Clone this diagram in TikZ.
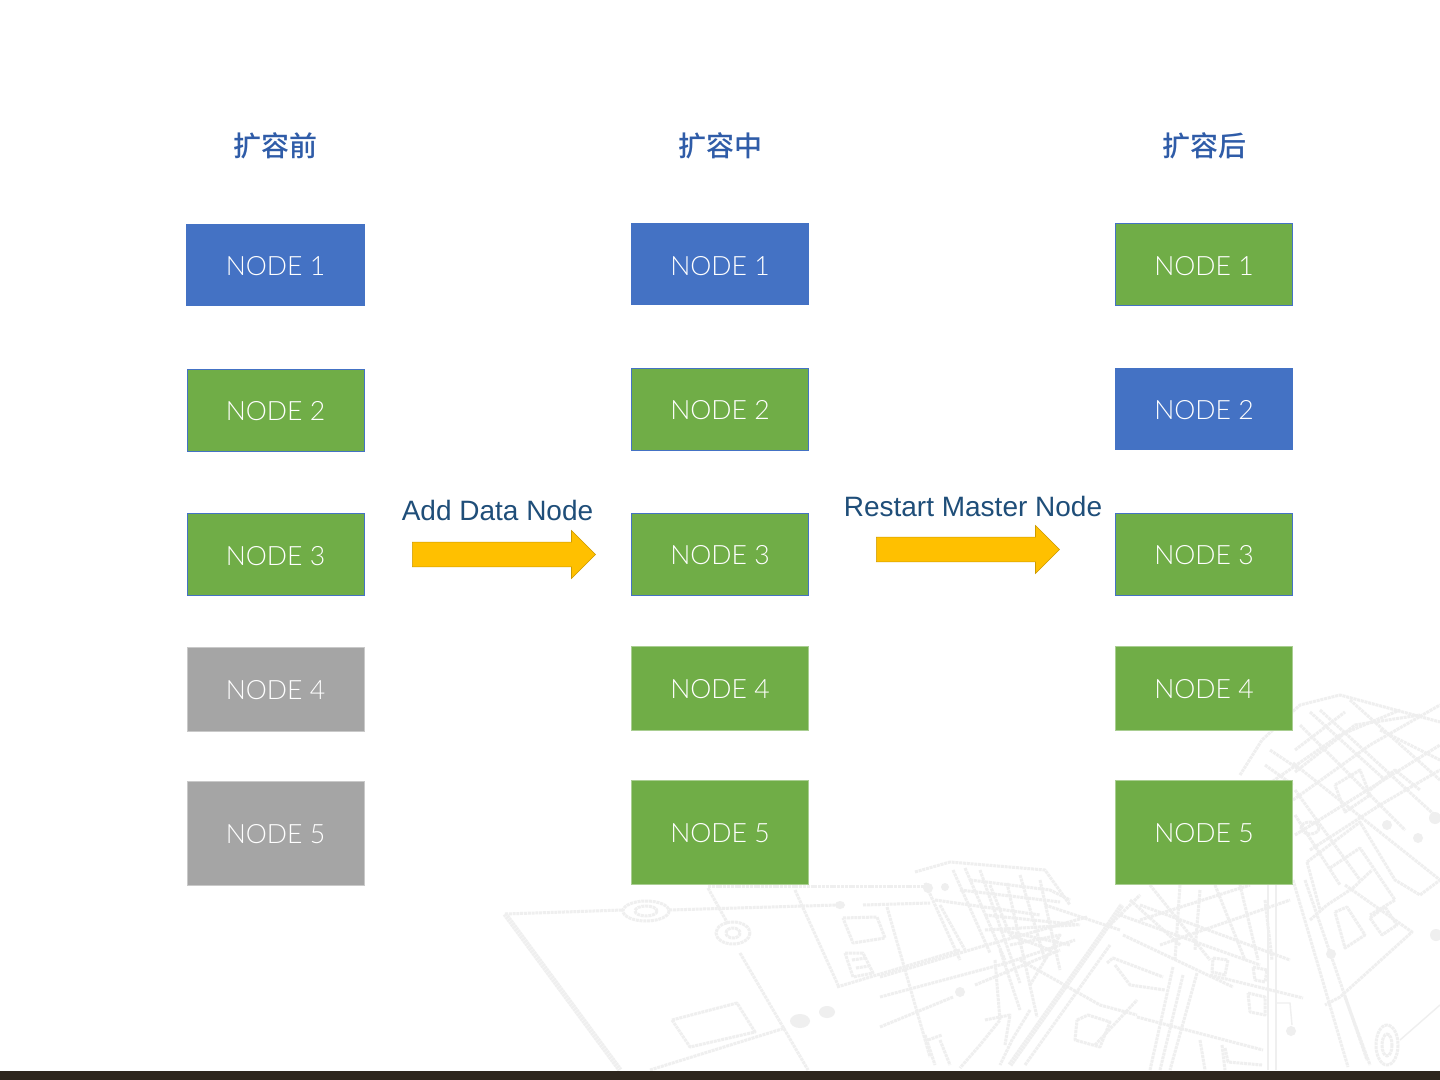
\documentclass[tikz,border=0pt]{standalone}
\usepackage{fontspec}
\usepackage{tikz}
\usetikzlibrary{shapes.arrows}
\setmainfont{Liberation Sans}
\newfontfamily\nodefont[UprightFont=* Light]{Lato}
\newfontfamily\cjkfont[BoldFont=* Medium]{Noto Sans CJK SC}
\definecolor{boxblue}{HTML}{4472C4}
\definecolor{boxgreen}{HTML}{70AD47}
\definecolor{boxgrey}{HTML}{A5A5A5}
\definecolor{arrowyellow}{HTML}{FFC000}
\definecolor{titleblue}{HTML}{2F5CA8}
\definecolor{labelblue}{HTML}{1F4E79}
\definecolor{barbrown}{HTML}{2E261E}
\definecolor{sketchgrey}{HTML}{EFEFEF}
\tikzset{
	nodebox/.style={rectangle,minimum width=88.6pt,minimum height=41pt,inner sep=0pt,
		text=white,text height=10.8pt,text depth=0pt,font=\nodefont\fontsize{13.3}{16}\selectfont},
	bluebox/.style={nodebox,fill=boxblue},
	greenbox/.style={nodebox,fill=boxgreen,draw=boxgreen!60!white,line width=0.4pt},
	edgebox/.style={nodebox,fill=boxgreen,draw=boxblue,line width=0.3pt},
	greybox/.style={nodebox,fill=boxgrey,draw=boxgrey!60!white,line width=0.4pt},
	titletext/.style={text=titleblue,font=\cjkfont\bfseries\fontsize{14}{16}\selectfont},
	labeltext/.style={text=labelblue,font=\fontsize{14}{16}\selectfont},
	blockarrow/.style={single arrow,single arrow tip angle=90,single arrow head indent=0pt,
		single arrow head extend=5.8pt,
		fill=arrowyellow,draw=arrowyellow!80!black,line width=0.3pt,
		minimum height=91.6pt,minimum width=24pt,inner xsep=0pt,inner ysep=6pt,anchor=tail},
	sketch/.style={draw=sketchgrey,line width=1.5pt,dash pattern=on 1.5pt off 0.4pt,line join=round},
	sketchthick/.style={sketch,line width=2.6pt,dash pattern=on 1.2pt off 0.3pt},
	sketchthin/.style={draw=sketchgrey,line width=0.7pt}
}
\begin{document}
\begin{tikzpicture}[x=0.5pt,y=-0.5pt]

	\useasboundingbox (0,0) rectangle (1440,1080);
	\fill[white] (0,0) rectangle (1440,1080);

	% Sketch, left part
	\draw[sketch] (505,914)--(623,910) (669,910)--(838,905);
	\draw[sketchthick] (505,914)--(620,1070);
	\draw[sketch] (708,886)--(925,886);
	\draw[sketch] (708,888)--(728,924) (740,953)--(808,1070);
	\draw[sketch] (795,890)--(838,985);
	\draw[sketch] (646,911) ellipse [x radius=23,y radius=10];
	\draw[sketch] (646,911) ellipse [x radius=11,y radius=5];
	\draw[sketch] (733,933) ellipse [x radius=17,y radius=11];
	\draw[sketch] (733,933) ellipse [x radius=7,y radius=5];
	\draw[sketch] (672,1020)--(737,1003)--(755,1032)--(690,1047)--cycle;
	\draw[sketch] (650,1070)--(785,1028);
	\fill[sketchgrey] (800,1021) ellipse [x radius=10,y radius=7];
	\fill[sketchgrey] (827,1012) ellipse [x radius=8,y radius=6];
	\fill[sketchgrey] (840,905) ellipse [x radius=5,y radius=4];
	\draw[sketch] (843,918)--(877,917)--(885,938)--(853,943)--cycle;
	\draw[sketch] (845,953)--(863,953)--(873,973)--(853,977)--cycle;
	\draw[sketch] (852,960)--(866,958) (856,968)--(869,966);
	\draw[sketch] (837,987)--(960,950);
	\draw[sketch] (863,905)--(930,903);

	% Sketch, middle part
	\draw[sketch] (915,872)--(950,862)--(1045,870)--(1070,905);
	\draw[sketch] (925,883)--(960,960);
	\draw[sketch] (887,907)--(930,1057);
	\draw[sketch] (940,905)--(965,950);
	\draw[sketch] (953,870)--(990,953);
	\draw[sketch] (980,870)--(1020,983);
	\draw[sketch] (1007,883)--(1037,1017);
	\draw[sketch] (1040,880)--(1060,970);
	\draw[sketch] (1020,875)--(1045,960);
	\draw[sketch] (965,868)--(1005,960);
	\draw[sketch] (970,880)--(1050,890)--(1070,900);
	\draw[sketch] (935,900)--(1040,915);
	\draw[sketch] (960,890)--(1060,902);
	\draw[sketch] (985,915)--(1080,925);
	\draw[sketch] (880,977)--(980,947)--(1087,917);
	\draw[sketch] (880,997)--(1007,963)--(1075,940);
	\draw[sketch] (880,1027)--(953,997);
	\draw[sketch] (975,985)--(1060,950);
	\draw[sketch] (985,930)--(1075,925);
	\draw[sketch] (990,885)--(1010,935)--(1050,950);
	\draw[sketch] (1000,930)--(1070,945);
	\draw[sketch] (1010,945)--(1060,935)--(1030,985);
	\draw[sketch] (995,960)--(1000,1020)--(980,1045)--(960,1068);
	\draw[sketch] (1030,1010)--(1012,1040)--(1000,1065);
	\draw[sketch] (1000,950)--(1020,1010);
	\draw[sketch] (925,1035)--(935,1065) (940,1040)--(950,1065);
	\draw[sketch] (928,1040)--(942,1035);
	\draw[sketch] (985,1020)--(1010,1015)--(1005,1045);
	\fill[sketchgrey] (960,992) circle (5);
	\fill[sketchgrey] (928,888) circle (5);
	\fill[sketchgrey] (945,887) circle (4);
	\draw[sketchthick] (1010,1065)--(1100,937)--(1122,905);
	\draw[sketch] (1025,1065)--(1110,945);
	\draw[sketch] (1095,1045)--(1137,1000);
	\draw[sketch] (1077,1020)--(1088,1015)--(1110,1022)--(1100,1047)--(1075,1040)--cycle;
	\draw[sketch] (1020,960)--(1100,1005)--(1137,1015);
	\draw[sketch] (1045,905)--(1120,930);

	% Sketch, lower right part
	\draw[sketch] (1123,935)--(1233,987);
	\draw[sketch] (1140,905)--(1290,960);
	\draw[sketch] (1120,915)--(1260,965);
	\draw[sketch] (1110,925)--(1140,895);
	\draw[sketch] (1210,975)--(1303,998);
	\draw[sketch] (1137,1017)--(1263,1050);
	\draw[sketch] (1173,967)--(1150,1070);
	\draw[sketch] (1197,973)--(1170,1070);
	\draw[sketch] (1183,975)--(1160,1070);
	\draw[sketch] (1107,963)--(1113,958)--(1163,977);
	\draw[sketch] (1115,965)--(1130,985)--(1165,990);
	\draw[sketch] (1248,993)--(1265,997)--(1265,1015)--(1250,1012)--cycle;
	\draw[sketch] (1213,958)--(1228,960)--(1225,975)--(1212,972)--cycle;
	\draw[sketch] (1253,967)--(1267,970)--(1265,982)--(1255,980)--cycle;
	\draw[sketch] (1180,885)--(1175,960) (1215,885)--(1245,960) (1150,885)--(1210,960);
	\draw[sketch] (1240,885)--(1258,960) (1265,900)--(1272,960);
	\draw[sketch] (1140,920)--(1250,885);
	\draw[sketch] (1160,945)--(1290,900);
	\draw[sketch] (1130,900)--(1180,945) (1200,890)--(1195,950);
	\draw[sketch] (1200,1040)--(1205,1070) (1222,1045)--(1225,1070);
	\draw[sketch] (1225,1048)--(1228,1062)--(1262,1065);
	\draw[sketchthin] (1268,885)--(1268,1070) (1276,885)--(1276,1070);
	\draw[sketchthin] (1276,1003)--(1290,1003)--(1292,1025);
	\fill[sketchgrey] (1291,1031) circle (5);
	\draw[sketch] (1293,880)--(1348,1067);
	\draw[sketch] (1305,880)--(1367,1060);
	\draw[sketch] (1310,920)--(1327,905)--(1353,888)--(1372,870);
	\draw[sketch] (1335,912)--(1347,907)--(1365,935)--(1345,948)--cycle;
	\draw[sketch] (1370,918)--(1385,907)--(1397,925)--(1382,935)--cycle;
	\draw[sketch] (1345,885)--(1412,932)--(1340,997)--(1325,1005);
	\draw[sketch] (1345,997)--(1370,1065);
	\draw[sketch] (1387,1045) ellipse [x radius=11,y radius=20];
	\draw[sketch] (1387,1045) ellipse [x radius=5,y radius=11];
	\draw[sketchthin] (1400,1040)--(1440,1005);
	\fill[sketchgrey] (1331,954) circle (5);
	\fill[sketchgrey] (1436,935) circle (6);

	% Sketch, upper right part
	\draw[sketch] (1240,775)--(1262,740)--(1300,705)--(1340,695)--(1440,722);
	\draw[sketch] (1260,790)--(1340,735)--(1400,710);
	\draw[sketch] (1293,800)--(1370,745)--(1440,705);
	\draw[sketch] (1295,772)--(1355,725)--(1420,715);
	\draw[sketch] (1295,750)--(1345,712);
	\draw[sketch] (1295,835)--(1440,745);
	\draw[sketch] (1310,850)--(1380,805)--(1440,770);
	\draw[sketch] (1293,763)--(1440,880);
	\draw[sketch] (1320,710)--(1440,820);
	\draw[sketch] (1350,700)--(1440,780);
	\draw[sketch] (1300,725)--(1405,830);
	\draw[sketch] (1310,712)--(1385,780);
	\draw[sketch] (1295,790)--(1360,880);
	\draw[sketch] (1295,815)--(1340,885);
	\draw[sketch] (1270,750)--(1300,770) (1265,765)--(1293,785);
	\draw[sketch] (1307,862)--(1360,822)--(1395,880)--(1420,895)--(1440,880);
	\draw[sketch] (1307,862)--(1320,910);
	\draw[sketch] (1330,868)--(1360,848)--(1395,900)--(1370,915);
	\draw[sketch] (1380,730)--(1440,760);
	\draw[sketch] (1370,790)--(1395,770)--(1420,790);
	\draw[sketch] (1335,785)--(1360,770)--(1370,795)--(1345,812)--cycle;
	\draw[sketch] (1310,828) ellipse [x radius=9,y radius=6];
	\fill[sketchgrey] (1387,825) circle (5);
	\fill[sketchgrey] (1435,818) circle (6);
	\fill[sketchgrey] (1418,838) circle (5);

	% Bottom bar
	\fill[barbrown] (0,1071) rectangle (1440,1080);

	% Before
	\node[titletext] (beforetitle) at (275.5,146) {扩容前};
	\node[bluebox,minimum width=89.4pt] (before1) at (275.5,265) {NODE 1};
	\node[edgebox] (before2) at (275.5,410) {NODE 2};
	\node[edgebox] (before3) at (275.5,554.5) {NODE 3};
	\node[greybox,minimum height=42pt] (before4) at (275.5,689) {NODE 4};
	\node[greybox,minimum height=52pt,text height=10.2pt] (before5) at (275.5,833.5) {NODE 5};

	% During
	\node[titletext] (duringtitle) at (720,146) {扩容中};
	\node[bluebox] (during1) at (720,264.5) {NODE 1};
	\node[edgebox] (during2) at (720,409) {NODE 2};
	\node[edgebox] (during3) at (720,554) {NODE 3};
	\node[greenbox,minimum height=42pt] (during4) at (720,688) {NODE 4};
	\node[greenbox,minimum height=52pt,text height=9.6pt] (during5) at (720,832.5) {NODE 5};

	% After
	\node[titletext] (aftertitle) at (1204,146) {扩容后};
	\node[edgebox] (after1) at (1204,264.5) {NODE 1};
	\node[bluebox] (after2) at (1204,409) {NODE 2};
	\node[edgebox] (after3) at (1204,554) {NODE 3};
	\node[greenbox,minimum height=42pt] (after4) at (1204,688) {NODE 4};
	\node[greenbox,minimum height=52pt,text height=9.6pt] (after5) at (1204,832.5) {NODE 5};

	% Arrows
	\node[labeltext] (addlabel) at (497.5,510.5) {Add Data Node};
	\node[blockarrow] (addarrow) at (412,554.5) {};
	\node[labeltext] (restartlabel) at (973,506.5) {Restart Master Node};
	\node[blockarrow] (restartarrow) at (876,549.5) {};

\end{tikzpicture}
\end{document}
